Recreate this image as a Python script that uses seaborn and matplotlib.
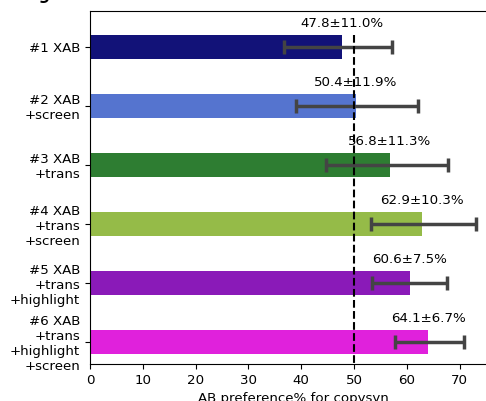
import matplotlib
matplotlib.use("Agg")
import matplotlib.pyplot as plt
import seaborn as sns
import numpy as np

# Data
systems = ["#1 XAB", "#2 XAB\n+screen", "#3 XAB\n+trans", "#4 XAB\n+trans\n+screen",
           "#5 XAB\n+trans\n+highlight", "#6 XAB\n+trans\n+highlight\n+screen"]
means = [47.8, 50.4, 56.8, 62.9, 60.6, 64.1]
ci_low = [36.7, 39.0, 44.7, 53.2, 53.4, 57.8]
ci_high = [57.2, 62.2, 67.9, 73.2, 67.7, 70.8]
labels = ["47.8±11.0%", "50.4±11.9%", "56.8±11.3%", "62.9±10.3%", "60.6±7.5%", "64.1±6.7%"]
colors = ["#121278", "#5574cf", "#2e7d32", "#95bb48", "#8a1ab8", "#e021dc"]

fs = 9.6

fig = plt.figure(figsize=(4.86, 4.01), dpi=100)
ax = fig.add_axes([90 / 486, 37 / 401, 406 / 486, 353 / 401])

sns.barplot(x=means, y=systems, hue=systems, palette=colors, legend=False,
            width=0.4, orient="h", ax=ax, saturation=1)

ypos = np.arange(len(means))
m = np.array(means)
xerr = [m - np.array(ci_low), np.array(ci_high) - m]
ax.errorbar(means, ypos, xerr=xerr, fmt="none", ecolor="#444444",
            elinewidth=2.5, capsize=5, capthick=2.5)

for y, v, t in zip(ypos, means, labels):
    ax.text(v, y - 0.28, t, ha="center", va="bottom", fontsize=fs)

ax.vlines(50, -0.2, 5.376, colors="black", linestyles="--", linewidth=1.5)

ax.set_xlim(0, 76.9)
ax.set_ylim(5.376, -0.61)
ax.set_xticks([0, 10, 20, 30, 40, 50, 60, 70])
ax.set_xlabel("AB preference% for copysyn", fontsize=fs)
ax.set_ylabel("")
ax.tick_params(labelsize=fs)

# cropped caption glyph at top-left
fig.text(45 / 486, 1.012, "g", fontweight="bold", fontstyle="italic", ha="center", va="center", fontsize=11)

fig.savefig("out.png", dpi=100)
